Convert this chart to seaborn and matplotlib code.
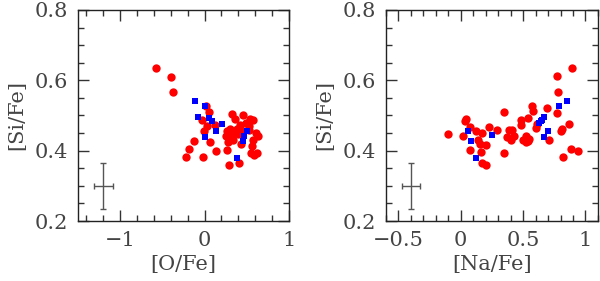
import numpy as np
import matplotlib
matplotlib.use("Agg")
import matplotlib.pyplot as plt
from matplotlib.ticker import MultipleLocator, FuncFormatter
import seaborn as sns

# [O/Fe] vs [Si/Fe] -- red circles
ofe_red = [-0.58, -0.40, -0.37, 0.02, 0.05, -0.03, 0.03, 0.12, -0.01, 0.06,
           -0.13, -0.19, -0.22, -0.02, 0.14, 0.26, 0.29, 0.41, 0.33, 0.36,
           0.46, 0.54, 0.57, 0.42, 0.52, 0.30, 0.38, 0.26, 0.34, 0.25,
           0.30, 0.43, 0.61, 0.63, 0.57, 0.56, 0.55, 0.62, 0.58, 0.34,
           0.46, 0.40, 0.31, 0.49, 0.28, 0.52]
sife_o_red = [0.635, 0.610, 0.567, 0.528, 0.510, 0.488, 0.471, 0.473, 0.455, 0.426,
              0.428, 0.404, 0.382, 0.382, 0.399, 0.401, 0.360, 0.365, 0.504, 0.490,
              0.501, 0.490, 0.486, 0.474, 0.469, 0.462, 0.462, 0.457, 0.452, 0.441,
              0.436, 0.420, 0.450, 0.441, 0.431, 0.412, 0.393, 0.393, 0.389, 0.430,
              0.455, 0.448, 0.445, 0.478, 0.425, 0.460]

# [O/Fe] vs [Si/Fe] -- blue squares
ofe_blue = [-0.11, 0.01, -0.08, 0.05, 0.09, 0.21, 0.14, 0.00, 0.50, 0.47, 0.45, 0.38]
sife_o_blue = [0.541, 0.526, 0.497, 0.493, 0.483, 0.477, 0.457, 0.438, 0.455, 0.441, 0.427, 0.378]

# [Na/Fe] vs [Si/Fe] -- red circles
nafe_red = [0.89, 0.77, 0.78, 0.35, 0.57, 0.58, 0.69, 0.77, 0.54, 0.48,
            0.48, 0.60, 0.61, 0.41, 0.39, 0.43, 0.37, 0.40, 0.50, 0.52,
            0.54, 0.52, 0.35, 0.29, 0.23, 0.17, 0.12, 0.14, 0.15, 0.20,
            0.16, 0.17, 0.20, 0.07, 0.02, -0.10, 0.04, 0.03, 0.07, 0.82,
            0.88, 0.94, 0.80, 0.81, 0.87, 0.71, 0.55]
sife_na_red = [0.635, 0.611, 0.567, 0.511, 0.528, 0.513, 0.521, 0.507, 0.494, 0.488,
               0.474, 0.464, 0.475, 0.460, 0.458, 0.441, 0.438, 0.431, 0.431, 0.441,
               0.428, 0.426, 0.393, 0.460, 0.466, 0.450, 0.457, 0.431, 0.419, 0.415,
               0.396, 0.365, 0.360, 0.403, 0.441, 0.447, 0.491, 0.483, 0.467, 0.382,
               0.405, 0.398, 0.457, 0.462, 0.477, 0.429, 0.432]

# [Na/Fe] vs [Si/Fe] -- blue squares
nafe_blue = [0.06, 0.08, 0.12, 0.25, 0.63, 0.65, 0.67, 0.70, 0.67, 0.79, 0.85, 0.64]
sife_na_blue = [0.455, 0.427, 0.378, 0.445, 0.478, 0.488, 0.497, 0.457, 0.438, 0.526, 0.541, 0.483]

# typical error bars
err_x = [-1.2, -0.4]
err_xerr = [0.11, 0.075]
err_y = 0.30
err_yerr = 0.065

sns.set_style("ticks")
plt.rcParams['font.family'] = ['DejaVu Serif']
plt.rcParams['font.size'] = 15
plt.rcParams['text.color'] = '#444444'
plt.rcParams['axes.labelcolor'] = '#444444'
plt.rcParams['xtick.color'] = '#333333'
plt.rcParams['ytick.color'] = '#333333'
plt.rcParams['xtick.labelcolor'] = '#444444'
plt.rcParams['ytick.labelcolor'] = '#444444'
plt.rcParams['axes.edgecolor'] = '#222222'

fig = plt.figure(figsize=(6, 2.81), dpi=100)
ax1 = fig.add_axes([0.13, 0.2135, 0.3517, 0.751])
ax2 = fig.add_axes([0.6433, 0.2135, 0.3533, 0.751])

panels = [
    (ax1, ofe_red, sife_o_red, ofe_blue, sife_o_blue, '[O/Fe]', (-1.5, 1.0), 1.0, 0.2),
    (ax2, nafe_red, sife_na_red, nafe_blue, sife_na_blue, '[Na/Fe]', (-0.6, 1.1), 0.5, 0.1),
]

fmt = FuncFormatter(lambda v, p: ('%g' % round(v, 3)).replace('-', '\u2212'))

for i, (ax, xr, yr, xb, yb, xlabel, xlim, xmaj, xmin) in enumerate(panels):
    sns.scatterplot(x=xr, y=yr, ax=ax, color='#ff0000', marker='o', s=36, linewidth=0)
    sns.scatterplot(x=xb, y=yb, ax=ax, color='#0000ff', marker='s', s=22, linewidth=0)
    ax.errorbar(err_x[i], err_y, xerr=err_xerr[i], yerr=err_yerr, color='#555555',
                capsize=2, elinewidth=1, capthick=1, fmt='none')
    ax.set_xlim(*xlim)
    ax.set_ylim(0.2, 0.8)
    ax.xaxis.set_major_locator(MultipleLocator(xmaj))
    ax.xaxis.set_minor_locator(MultipleLocator(xmin))
    ax.xaxis.set_major_formatter(fmt)
    ax.yaxis.set_major_locator(MultipleLocator(0.2))
    ax.yaxis.set_minor_locator(MultipleLocator(0.05))
    ax.tick_params(which='both', direction='in', top=True, right=True, pad=7, width=1)
    ax.tick_params(which='major', length=8)
    ax.tick_params(which='minor', length=4)
    ax.set_xlabel(xlabel, labelpad=4)
    ax.set_ylabel('[Si/Fe]', labelpad=6)
    for s in ax.spines.values():
        s.set_linewidth(1)

fig.savefig('out.png', dpi=100)
